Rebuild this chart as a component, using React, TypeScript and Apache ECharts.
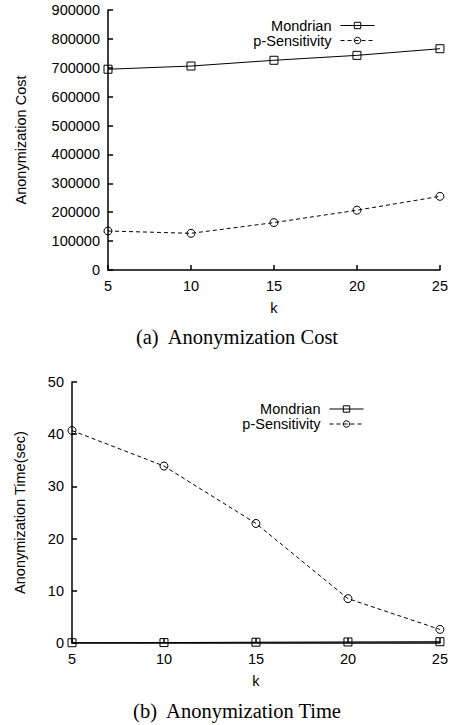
import React, { useEffect, useRef } from "react";
import * as echarts from "echarts";

const kValues = [5, 10, 15, 20, 25];
const costMondrian = [695000, 706000, 726000, 743000, 766000];
const costPSens = [135000, 127000, 164000, 207000, 255000];
const timeMondrian = [0.05, 0.08, 0.15, 0.2, 0.25];
const timePSens = [40.7, 33.9, 22.9, 8.5, 2.6];
const seriesNames = ["Mondrian", "p-Sensitivity"];
const captions = ["(a)  Anonymization Cost", "(b)  Anonymization Time"];
const yNames = ["Anonymization Cost", "Anonymization Time(sec)"];
const xName = "k";

const SANS = "Liberation Sans, Arial, sans-serif";
const SERIF = "Liberation Serif, Times New Roman, serif";
const FS = 14.5;

function pairs(vals: number[]) {
  return kValues.map((k, i) => [k, vals[i]]);
}

export default function App() {
  const ref = useRef<HTMLDivElement>(null);
  useEffect(() => {
    if (!ref.current) return;
    const chart = echarts.init(ref.current, null, { renderer: "svg" });
    const labelStyle = {
      color: "#000",
      fontSize: FS,
      fontFamily: SANS,
      margin: 8,
      formatter: (v: number) => String(v),
    };
    const axisCommon = {
      axisLine: { show: true, lineStyle: { color: "#000", width: 1.5 } },
      axisTick: { show: true, inside: true, length: 5, lineStyle: { color: "#000", width: 1.5 } },
      splitLine: { show: false },
      axisLabel: labelStyle,
      nameTextStyle: { color: "#000", fontSize: FS, fontFamily: SANS },
    };
    const xAxisBase = (gridIndex: number) => ({
      ...axisCommon,
      type: "value",
      gridIndex,
      min: 5,
      max: 25,
      interval: 5,
      name: xName,
      nameLocation: "middle",
      nameGap: 30,
    });
    const mkSeries = (name: string, vals: number[], idx: number, dashed: boolean) => ({
      type: "line",
      name,
      xAxisIndex: idx,
      yAxisIndex: idx,
      data: pairs(vals),
      symbol: dashed ? "circle" : "rect",
      symbolSize: 8,
      showSymbol: true,
      lineStyle: { color: "#000", width: 1, type: dashed ? [4, 3] : "solid" },
      itemStyle: { color: "rgba(255,255,255,0)", borderColor: "#000", borderWidth: 1 },
      z: 3,
    });
    const legendBase = {
      orient: "vertical",
      align: "right",
      itemWidth: 34,
      itemHeight: 8,
      itemGap: 0,
      padding: 0,
      textStyle: {
        color: "#000",
        fontSize: FS,
        fontFamily: SANS,
        lineHeight: 15,
        padding: [0, 4, 0, 0],
      },
      lineStyle: { width: 1 },
      itemStyle: { borderWidth: 1 },
      data: seriesNames,
      selectedMode: false,
    };
    chart.setOption({
      animation: false,
      backgroundColor: "#fff",
      grid: [
        { left: 108, top: 10, width: 333, height: 260 },
        { left: 72, top: 382, width: 369, height: 261 },
      ],
      xAxis: [xAxisBase(0), xAxisBase(1)],
      yAxis: [
        {
          ...axisCommon,
          type: "value",
          gridIndex: 0,
          min: 0,
          max: 900000,
          interval: 100000,
          name: yNames[0],
          nameLocation: "middle",
          nameGap: 80,
        },
        {
          ...axisCommon,
          type: "value",
          gridIndex: 1,
          min: 0,
          max: 50,
          interval: 10,
          name: yNames[1],
          nameLocation: "middle",
          nameGap: 45,
        },
      ],
      legend: [
        { ...legendBase, right: 76, top: 18 },
        { ...legendBase, right: 87, top: 401.5 },
      ],
      series: [
        mkSeries(seriesNames[0], costMondrian, 0, false),
        mkSeries(seriesNames[1], costPSens, 0, true),
        mkSeries(seriesNames[0], timeMondrian, 1, false),
        mkSeries(seriesNames[1], timePSens, 1, true),
      ],
      graphic: [
        {
          type: "text",
          x: 237,
          y: 337,
          style: {
            text: captions[0],
            fill: "#000",
            font: `20.5px ${SERIF}`,
            textAlign: "center",
            textVerticalAlign: "middle",
          },
        },
        {
          type: "text",
          x: 237,
          y: 711,
          style: {
            text: captions[1],
            fill: "#000",
            font: `20.5px ${SERIF}`,
            textAlign: "center",
            textVerticalAlign: "middle",
          },
        },
      ],
    });
    return () => chart.dispose();
  }, []);
  return (
    <div
      ref={ref}
      style={{ position: "fixed", left: 0, top: 0, width: 451, height: 725, background: "#fff" }}
    />
  );
}
